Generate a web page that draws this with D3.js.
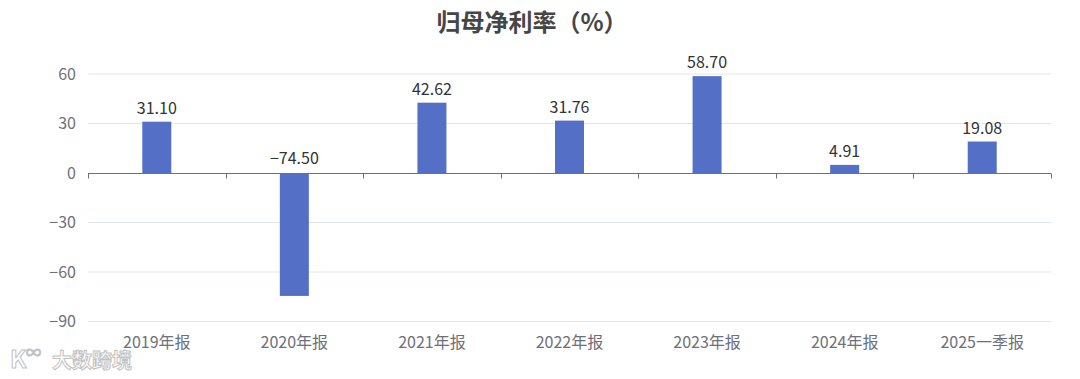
<!DOCTYPE html>
<html><head><meta charset="utf-8">
<script src="https://cdn.jsdelivr.net/npm/d3@7/dist/d3.min.js"></script>
<style>body{margin:0;background:#fff}svg{display:block;font-family:"Noto Sans CJK SC","Noto Sans",sans-serif}</style>
</head><body><svg id="c" width="1080" height="379"></svg>
<script>
const categories = ["2019年报","2020年报","2021年报","2022年报","2023年报","2024年报","2025一季报"];
const values = [31.10, -74.50, 42.62, 31.76, 58.70, 4.91, 19.08];
const yTicks = [-90, -60, -30, 0, 30, 60];
const title = "归母净利率（%）";

const svg = d3.select("#c");
const m = {left: 88, right: 1051, top: 74, bottom: 321.5};
const x = d3.scaleBand().domain(categories).range([m.left, m.right]);
const y = d3.scaleLinear().domain([-90, 60]).range([m.bottom, m.top]);

svg.append("text").attr("x", 532).attr("y", 31).attr("text-anchor","middle")
  .attr("font-size", 24).attr("font-weight","bold").attr("fill","#464646").text(title);

// grid
svg.append("g").selectAll("line").data(yTicks.filter(d=>d!==0)).join("line")
  .attr("x1", m.left).attr("x2", m.right).attr("y1", d=>y(d)).attr("y2", d=>y(d))
  .attr("stroke","#E0E6F1").attr("stroke-width",1);

// y labels
svg.append("g").selectAll("text").data(yTicks).join("text")
  .attr("x", 76).attr("y", d=>y(d)).attr("dy","0.36em").attr("text-anchor","end")
  .attr("font-size",16).attr("fill","#6E7079").text(d=>d<0?"−"+Math.abs(d):d);

// bars
const bw = 29;
svg.append("g").selectAll("rect").data(values).join("rect")
  .attr("x", (d,i)=>x(categories[i]) + x.bandwidth()/2 - bw/2)
  .attr("width", bw)
  .attr("y", d=>Math.min(y(d), y(0)))
  .attr("height", d=>Math.abs(y(d)-y(0)))
  .attr("fill","#5470C6");

// value labels
svg.append("g").selectAll("text").data(values).join("text")
  .attr("x", (d,i)=>x(categories[i]) + x.bandwidth()/2)
  .attr("y", d=> d>=0 ? y(d) - 8 : y(0) - 9)
  .attr("text-anchor","middle").attr("font-size",16).attr("fill","#333")
  .text(d=> d<0 ? "−"+Math.abs(d).toFixed(2) : d.toFixed(2));

// x axis line at zero
const zeroY = Math.round(y(0)) + 0.5;
svg.append("line").attr("x1", m.left).attr("x2", m.right).attr("y1", zeroY).attr("y2", zeroY)
  .attr("stroke","#6E7079").attr("stroke-width",1);
const tickPos = categories.map(c=>x(c)).concat([m.right]);
svg.append("g").selectAll("line").data(tickPos).join("line")
  .attr("x1", d=>Math.round(d)+0.5).attr("x2", d=>Math.round(d)+0.5)
  .attr("y1", zeroY).attr("y2", zeroY+5).attr("stroke","#6E7079");

// category labels
svg.append("g").selectAll("text").data(categories).join("text")
  .attr("x", d=>x(d)+x.bandwidth()/2).attr("y", 348).attr("text-anchor","middle")
  .attr("font-size",16).attr("fill","#6E7079").text(d=>d);

// watermark
const wm = svg.append("g").attr("opacity",0.9);
wm.append("text").attr("x", 10).attr("y", 368).attr("font-size",24).attr("font-weight","bold")
  .attr("fill","#fff").attr("stroke","#bbb").attr("stroke-width",1).text("K");
wm.append("text").attr("x", 26).attr("y", 358).attr("font-size",15)
  .attr("fill","#fff").attr("stroke","#bbb").attr("stroke-width",1).text("∞");
wm.append("text").attr("x", 52).attr("y", 368).attr("font-size",20).attr("font-weight","bold")
  .attr("fill","#fff").attr("stroke","#bbb").attr("stroke-width",1).text("大数跨境");
</script></body></html>
